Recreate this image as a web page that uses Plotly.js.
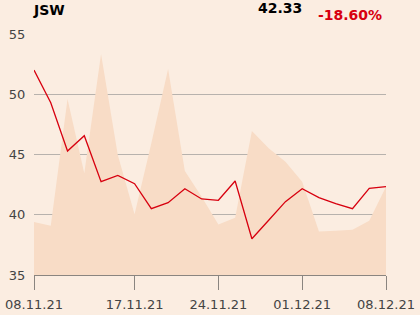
<!DOCTYPE html>
<html>
<head>
<meta charset="utf-8">
<script src="https://cdn.plot.ly/plotly-3.0.1.min.js"></script>
<style>
html,body{margin:0;padding:0;background:#fbede1;}
#chart{width:420px;height:315px;}
</style>
</head>
<body>
<div id="chart"></div>
<script>
const dates = ["08.11.21","09.11.21","10.11.21","12.11.21","15.11.21","16.11.21","17.11.21","18.11.21","19.11.21","22.11.21","23.11.21","24.11.21","25.11.21","26.11.21","29.11.21","30.11.21","01.12.21","02.12.21","03.12.21","06.12.21","07.12.21","08.12.21"];
const price = [52.00,49.30,45.29,46.56,42.74,43.27,42.58,40.50,41.00,42.16,41.31,41.20,42.80,38.01,39.54,41.09,42.16,41.42,40.92,40.50,42.19,42.33];
const volumeScaled = [39.40,39.09,49.61,43.44,53.34,44.96,40.04,45.93,52.10,43.63,41.50,39.20,39.76,46.95,45.51,44.40,42.74,38.60,38.68,38.76,39.50,42.33];
const tickDates = ["08.11.21","17.11.21","24.11.21","01.12.21","08.12.21"];
const yTicks = [35,40,45,50,55];
const ticker = "JSW";
const lastPrice = "42.33";
const change = "-18.60%";

const font = "DejaVu Sans, Verdana, sans-serif";

const traces = [
  {x: dates, y: volumeScaled, type: 'scatter', mode: 'lines', fill: 'tozeroy',
   fillcolor: '#f8dcc6', line: {width: 0, color: '#f8dcc6'}, hoverinfo: 'skip'},
  {x: dates, y: price, type: 'scatter', mode: 'lines',
   line: {color: '#d7000f', width: 1.3}, hoverinfo: 'skip'}
];

const layout = {
  width: 420, height: 315,
  margin: {l: 34, r: 34, t: 34, b: 40},
  paper_bgcolor: '#fbede1', plot_bgcolor: '#fbede1',
  showlegend: false,
  font: {family: font, color: '#444', size: 13},
  xaxis: {type: 'category', range: [0, dates.length - 1],
    tickmode: 'array', tickvals: tickDates, ticktext: tickDates,
    ticks: 'outside', ticklen: 14, tickcolor: '#8a8580', tickwidth: 1,
    ticklabelstandoff: 3,
    showline: true, linecolor: '#8a8580', linewidth: 1,
    showgrid: false, zeroline: false, fixedrange: true,
    tickfont: {family: font, size: 13, color: '#444'}},
  yaxis: {range: [35, 55], tickmode: 'array', tickvals: yTicks,
    ticks: 'outside', ticklen: 5, tickcolor: 'rgba(0,0,0,0)',
    showgrid: true, gridcolor: '#b7b2ad', gridwidth: 1,
    zeroline: false, showline: false, fixedrange: true,
    tickfont: {family: font, size: 13, color: '#444'}},
  annotations: [
    {text: '<b>' + ticker + '</b>', xref: 'paper', yref: 'paper', x: -0.008, y: 1.098,
     xanchor: 'left', yanchor: 'middle', showarrow: false,
     font: {family: font, size: 14, color: '#000'}},
    {text: '<b>' + lastPrice + '</b>', xref: 'paper', yref: 'paper', x: 0.766, y: 1.106,
     xanchor: 'right', yanchor: 'middle', showarrow: false,
     font: {family: font, size: 14, color: '#000'}},
    {text: '<b>' + change + '</b>', xref: 'paper', yref: 'paper', x: 0.993, y: 1.077,
     xanchor: 'right', yanchor: 'middle', showarrow: false,
     font: {family: font, size: 14, color: '#d7000f'}}
  ]
};

Plotly.newPlot('chart', traces, layout, {staticPlot: true, displayModeBar: false});
</script>
</body>
</html>
